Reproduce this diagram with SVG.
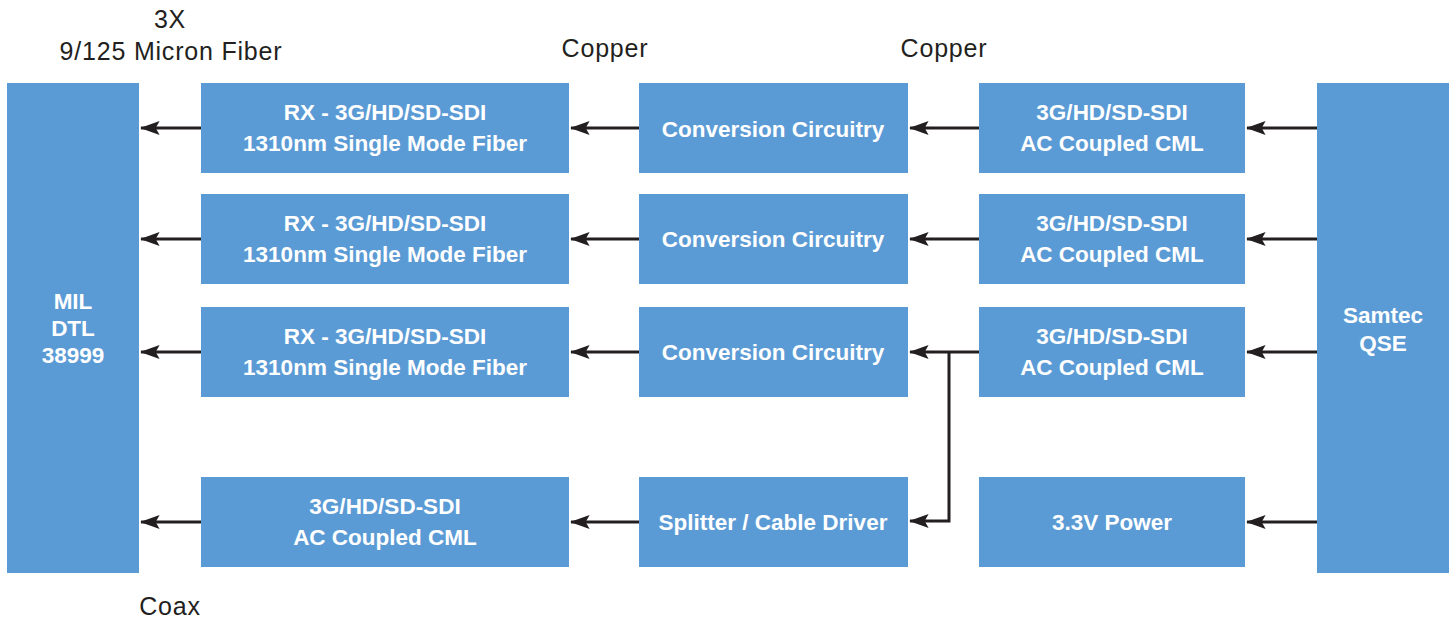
<svg xmlns="http://www.w3.org/2000/svg" width="1449" height="620" viewBox="0 0 1449 620">
<defs>
<style>
.box{fill:#5b9bd5}
.t{font-family:"Liberation Sans",Arial,sans-serif;font-size:22.5px;fill:#fff;text-anchor:middle;font-weight:bold}
.l{font-family:"Liberation Sans",Arial,sans-serif;font-size:25px;letter-spacing:0.8px;fill:#231f20;text-anchor:middle}
.c{stroke:#231f20;stroke-width:3;fill:none}
</style>
<marker id="ah" markerWidth="6.5" markerHeight="4.6" refX="6.2" refY="2.3" orient="auto" markerUnits="strokeWidth" viewBox="0 0 6.5 4.6">
<path d="M6.5,2.3 L0,0 L1.3,2.3 L0,4.6 Z" fill="#231f20"/>
</marker>
</defs>
<rect width="1449" height="620" fill="#fff"/>
<text class="l" x="170" y="28">3X</text>
<text class="l" x="171" y="60">9/125 Micron Fiber</text>
<text class="l" x="605" y="57">Copper</text>
<text class="l" x="944" y="57">Copper</text>
<text class="l" x="170" y="615">Coax</text>
<g id="mil"><rect class="box" x="7" y="83" width="132" height="490"/><text class="t" x="73" y="309">MIL</text><text class="t" x="73" y="336">DTL</text><text class="t" x="73" y="363">38999</text></g>
<g id="samtec"><rect class="box" x="1317" y="83" width="132" height="490"/><text class="t" x="1383" y="323">Samtec</text><text class="t" x="1383" y="351">QSE</text></g>
<g id="rx1"><rect class="box" x="201" y="83" width="368" height="90"/><text class="t" x="385" y="120">RX - 3G/HD/SD-SDI</text><text class="t" x="385" y="151">1310nm Single Mode Fiber</text></g>
<g id="rx2"><rect class="box" x="201" y="194" width="368" height="90"/><text class="t" x="385" y="231">RX - 3G/HD/SD-SDI</text><text class="t" x="385" y="262">1310nm Single Mode Fiber</text></g>
<g id="rx3"><rect class="box" x="201" y="307" width="368" height="90"/><text class="t" x="385" y="344">RX - 3G/HD/SD-SDI</text><text class="t" x="385" y="375">1310nm Single Mode Fiber</text></g>
<g id="cml4"><rect class="box" x="201" y="477" width="368" height="90"/><text class="t" x="385" y="514">3G/HD/SD-SDI</text><text class="t" x="385" y="545">AC Coupled CML</text></g>
<g id="conv1"><rect class="box" x="639" y="83" width="269" height="90"/><text class="t" x="773" y="137">Conversion Circuitry</text></g>
<g id="conv2"><rect class="box" x="639" y="194" width="269" height="90"/><text class="t" x="773" y="247">Conversion Circuitry</text></g>
<g id="conv3"><rect class="box" x="639" y="307" width="269" height="90"/><text class="t" x="773" y="360">Conversion Circuitry</text></g>
<g id="split"><rect class="box" x="639" y="477" width="269" height="90"/><text class="t" x="773" y="530">Splitter / Cable Driver</text></g>
<g id="cml1"><rect class="box" x="979" y="83" width="266" height="90"/><text class="t" x="1112" y="120">3G/HD/SD-SDI</text><text class="t" x="1112" y="151">AC Coupled CML</text></g>
<g id="cml2"><rect class="box" x="979" y="194" width="266" height="90"/><text class="t" x="1112" y="231">3G/HD/SD-SDI</text><text class="t" x="1112" y="262">AC Coupled CML</text></g>
<g id="cml3"><rect class="box" x="979" y="307" width="266" height="90"/><text class="t" x="1112" y="344">3G/HD/SD-SDI</text><text class="t" x="1112" y="375">AC Coupled CML</text></g>
<g id="power"><rect class="box" x="979" y="477" width="266" height="90"/><text class="t" x="1112" y="530">3.3V Power</text></g>
<g id="connectors">
<path class="c" marker-end="url(#ah)" d="M201,128 H141"/>
<path class="c" marker-end="url(#ah)" d="M201,239 H141"/>
<path class="c" marker-end="url(#ah)" d="M201,352 H141"/>
<path class="c" marker-end="url(#ah)" d="M201,522 H141"/>
<path class="c" marker-end="url(#ah)" d="M639,128 H571"/>
<path class="c" marker-end="url(#ah)" d="M639,239 H571"/>
<path class="c" marker-end="url(#ah)" d="M639,352 H571"/>
<path class="c" marker-end="url(#ah)" d="M639,522 H571"/>
<path class="c" marker-end="url(#ah)" d="M979,128 H910"/>
<path class="c" marker-end="url(#ah)" d="M979,239 H910"/>
<path class="c" marker-end="url(#ah)" d="M979,352 H910"/>
<path class="c" marker-end="url(#ah)" d="M949,352 V521 H910"/>
<path class="c" marker-end="url(#ah)" d="M1317,128 H1247"/>
<path class="c" marker-end="url(#ah)" d="M1317,239 H1247"/>
<path class="c" marker-end="url(#ah)" d="M1317,352 H1247"/>
<path class="c" marker-end="url(#ah)" d="M1317,522 H1247"/>
</g>
</svg>
